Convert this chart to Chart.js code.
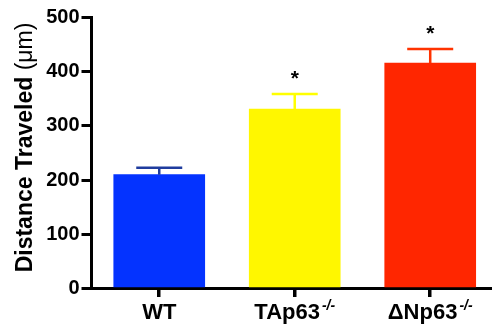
<!DOCTYPE html>
<html>
<head>
<meta charset="utf-8">
<script src="https://cdn.jsdelivr.net/npm/chart.js@4"></script>
<style>
  html, body { margin: 0; padding: 0; background: #fff; overflow: hidden; }
</style>
</head>
<body>
<canvas id="chart" width="492" height="328"></canvas>
<script>
// data
const categories = ["WT", "TAp63", "ΔNp63"];
const superscripts = ["", "-/-", "-/-"];
const means = [210, 331, 416];
const sems = [13, 28, 26];
const stars = ["", "*", "*"];
const yTicks = [0, 100, 200, 300, 400, 500];

const barColors = ["#0433ff", "#fff700", "#ff2600"];
const errColors = ["#1f3c9e", "#ffff00", "#ff3300"];
const FONT = "'Liberation Sans', Arial, sans-serif";

// error bars (upper only) + significance stars
const errorBars = {
  id: "errorBars",
  afterDatasetsDraw(chart) {
    const { ctx, scales: { x, y } } = chart;
    ctx.save();
    means.forEach((m, i) => {
      const cx = x.getPixelForValue(i);
      const yTop = y.getPixelForValue(m);
      const yErr = y.getPixelForValue(m + sems[i]);
      ctx.strokeStyle = errColors[i];
      ctx.lineWidth = 2.5;
      ctx.beginPath();
      ctx.moveTo(cx, yTop);
      ctx.lineTo(cx, yErr);
      ctx.moveTo(cx - 23, yErr);
      ctx.lineTo(cx + 23, yErr);
      ctx.stroke();
      if (stars[i]) {
        ctx.fillStyle = "#000";
        ctx.font = "bold 21px " + FONT;
        ctx.textAlign = "center";
        ctx.textBaseline = "alphabetic";
        ctx.fillText(stars[i], cx, yErr - 9);
      }
    });
    ctx.restore();
  },
  afterDraw(chart) {
    const { ctx, scales: { x, y } } = chart;
    ctx.save();
    ctx.fillStyle = "#000";
    ctx.textBaseline = "alphabetic";
    ctx.textAlign = "left";
    // category labels with superscripts
    categories.forEach((c, i) => {
      const cx = x.getPixelForValue(i);
      ctx.font = "bold 22px " + FONT;
      const w1 = ctx.measureText(c).width;
      ctx.font = "italic bold 14px " + FONT;
      const w2 = superscripts[i] ? ctx.measureText(superscripts[i]).width + 2 : 0;
      const x0 = cx - (w1 + w2) / 2;
      ctx.font = "bold 22px " + FONT;
      ctx.fillText(c, x0, 319);
      if (superscripts[i]) {
        ctx.font = "italic bold 14px " + FONT;
        ctx.fillText(superscripts[i], x0 + w1 + 2, 310);
      }
    });
    // y axis title
    const part1 = "Distance Traveled ";
    const part2 = "(μm)";
    ctx.font = "bold 23px " + FONT;
    const t1 = ctx.measureText(part1).width;
    ctx.font = "23px " + FONT;
    const t2 = ctx.measureText(part2).width;
    ctx.translate(31.7, 147.5 + (t1 + t2) / 2);
    ctx.rotate(-Math.PI / 2);
    ctx.font = "bold 23px " + FONT;
    ctx.fillText(part1, 0, 0);
    ctx.font = "23px " + FONT;
    ctx.fillText(part2, t1, 0);
    ctx.restore();
  }
};

new Chart(document.getElementById("chart"), {
  type: "bar",
  data: {
    datasets: [{
      data: means.map((m, i) => ({ x: i, y: m })),
      backgroundColor: barColors,
      borderWidth: 0,
      barThickness: 91
    }]
  },
  options: {
    responsive: false,
    animation: false,
    layout: { padding: { top: 17.5, right: 0, bottom: 0, left: 0 } },
    plugins: { legend: { display: false }, tooltip: { enabled: false } },
    scales: {
      x: {
        type: "linear",
        offset: false,
        min: -0.5,
        max: 2.456,
        afterBuildTicks: s => { s.ticks = categories.map((c, i) => ({ value: i })); },
        afterFit: s => { s.height = 39.5; },
        grid: { offset: false, drawOnChartArea: false, tickLength: 8.5, lineWidth: 3.5, color: "#000" },
        border: { width: 3, color: "#000" },
        ticks: { display: false }
      },
      y: {
        min: 0,
        max: 500,
        afterBuildTicks: s => { s.ticks = yTicks.map(v => ({ value: v })); },
        afterFit: s => { s.width = 91.5; },
        grid: { drawOnChartArea: false, tickLength: 10, lineWidth: 3, color: "#000" },
        border: { width: 3, color: "#000" },
        ticks: {
          padding: 2,
          color: "#000",
          font: { family: FONT, size: 20, weight: "bold" }
        }
      }
    }
  },
  plugins: [errorBars]
});
</script>
</body>
</html>
